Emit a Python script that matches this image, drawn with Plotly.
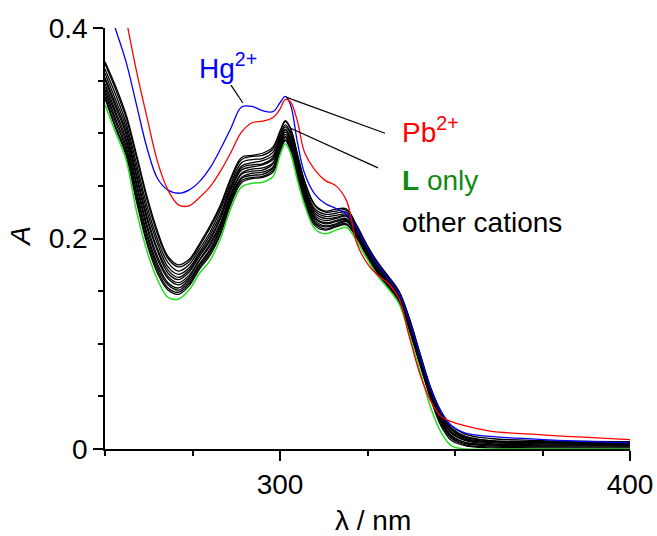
import plotly.graph_objects as go

# Wavelength grid (nm)
WAVELENGTH = [250, 253, 256, 259, 262, 265, 268, 271, 274, 277, 280, 283, 286, 289, 292, 295, 298, 300, 301.5, 303,
              305, 307, 310, 313, 316, 319, 322, 325, 328, 331, 334, 337, 340, 343, 346, 349, 353, 360, 375, 400]

L_ONLY = [.327, .301, .275, .226, .188, .161, .144, .1425, .151, .167, .179, .200, .229, .249, .2525, .2535, .259, .279, .290, .281,
          .255, .232, .209, .2045, .208, .2105, .197, .180, .164, .152, .138, .108, .074, .040, .016, .003, .000, .000, .000, .000]

HG = [.430, .399, .368, .327, .286, .257, .246, .243, .246, .254, .267, .285, .305, .325, .3255, .3215, .3205, .329, .335, .327,
      .291, .262, .242, .233, .2285, .223, .209, .191, .175, .162, .148, .121, .089, .058, .035, .022, .015, .012, .009, .006]

PB = [.510, .460, .409, .359, .315, .273, .246, .232, .231, .239, .249, .264, .282, .301, .310, .3115, .315, .323, .332, .330,
      .311, .282, .265, .255, .250, .236, .195, .176, .165, .157, .143, .106, .071, .046, .031, .026, .022, .017, .0135, .009]

OTHER_01 = [.368, .345, .318, .280, .240, .207, .183, .175, .180, .195, .212, .232, .258, .277, .279, .281, .287, .302, .312, .305,
            .280, .255, .232, .226, .228, .228, .212, .193, .177, .164, .150, .124, .091, .059, .036, .022, .014, .010, .008, .007]
OTHER_02 = [.366, .342, .315, .277, .237, .204, .181, .173, .178, .193, .210, .230, .256, .275, .278, .279, .285, .301, .311, .304,
            .279, .254, .231, .225, .226, .227, .211, .192, .176, .163, .149, .123, .090, .058, .034, .020, .012, .008, .006, .005]
OTHER_03 = [.361, .337, .310, .271, .231, .199, .177, .169, .175, .190, .206, .227, .253, .272, .275, .276, .282, .298, .308, .301,
            .276, .251, .228, .223, .224, .225, .210, .191, .175, .162, .148, .121, .089, .057, .033, .018, .010, .007, .006, .005]
OTHER_04 = [.357, .332, .306, .266, .226, .195, .173, .166, .172, .187, .203, .223, .250, .269, .272, .274, .279, .296, .306, .299,
            .273, .249, .226, .221, .222, .223, .208, .189, .173, .161, .147, .120, .088, .056, .032, .019, .011, .008, .007, .006]
OTHER_05 = [.353, .328, .302, .261, .221, .190, .170, .163, .170, .185, .200, .220, .248, .267, .270, .271, .277, .294, .304, .296,
            .271, .247, .224, .219, .220, .222, .207, .188, .172, .160, .146, .119, .087, .055, .031, .016, .009, .006, .005, .004]
OTHER_06 = [.351, .325, .299, .258, .218, .188, .167, .161, .168, .183, .198, .219, .246, .265, .268, .270, .275, .292, .303, .295,
            .270, .245, .222, .217, .219, .221, .206, .188, .172, .159, .145, .118, .086, .054, .030, .015, .008, .005, .004, .004]
OTHER_07 = [.347, .321, .295, .253, .213, .183, .164, .158, .165, .180, .195, .215, .243, .262, .266, .267, .272, .290, .301, .293,
            .267, .243, .220, .215, .217, .219, .205, .186, .170, .158, .144, .117, .085, .053, .029, .016, .009, .007, .006, .006]
OTHER_08 = [.344, .318, .292, .250, .210, .180, .162, .156, .163, .179, .193, .213, .241, .261, .264, .265, .271, .289, .299, .291,
            .266, .242, .219, .214, .216, .218, .204, .185, .169, .157, .143, .116, .084, .052, .028, .013, .006, .004, .003, .003]
OTHER_09 = [.341, .314, .288, .245, .205, .176, .158, .153, .161, .176, .190, .211, .239, .258, .262, .263, .268, .287, .297, .289,
            .263, .240, .217, .212, .214, .217, .203, .184, .168, .156, .142, .115, .083, .051, .027, .012, .006, .004, .003, .003]
OTHER_10 = [.338, .311, .285, .242, .202, .173, .156, .151, .159, .175, .188, .209, .237, .257, .260, .261, .267, .285, .296, .287,
            .262, .238, .215, .211, .213, .216, .202, .184, .168, .155, .141, .114, .082, .050, .026, .011, .005, .003, .002, .002]
OTHER_11 = [.335, .307, .282, .238, .198, .170, .153, .149, .157, .173, .186, .206, .235, .255, .258, .259, .265, .284, .294, .286,
            .260, .237, .214, .209, .212, .214, .201, .183, .167, .154, .140, .113, .081, .049, .024, .010, .004, .002, .001, .001]
OTHER_12 = [.333, .305, .279, .235, .195, .167, .151, .147, .155, .171, .184, .204, .233, .253, .257, .258, .263, .282, .293, .284,
            .259, .235, .212, .208, .211, .213, .200, .182, .166, .154, .140, .112, .080, .048, .022, .008, .003, .001, .000, .000]

OTHER_CATIONS = [OTHER_01, OTHER_02, OTHER_03, OTHER_04, OTHER_05, OTHER_06,
                 OTHER_07, OTHER_08, OTHER_09, OTHER_10, OTHER_11, OTHER_12]

FONT = "Liberation Sans, Arial, sans-serif"
GREEN_LINE = "#22dd22"
GREEN_TEXT = "#128a12"

fig = go.Figure()
for ys in OTHER_CATIONS:
    fig.add_trace(go.Scatter(x=WAVELENGTH, y=ys, mode="lines",
                             line=dict(color="black", width=1.3, shape="spline"),
                             showlegend=False, hoverinfo="skip"))
fig.add_trace(go.Scatter(x=WAVELENGTH, y=L_ONLY, mode="lines",
                         line=dict(color=GREEN_LINE, width=1.5, shape="spline"), showlegend=False))
fig.add_trace(go.Scatter(x=WAVELENGTH, y=HG, mode="lines",
                         line=dict(color="#0000ff", width=1.3, shape="spline"), showlegend=False))
fig.add_trace(go.Scatter(x=WAVELENGTH, y=PB, mode="lines",
                         line=dict(color="#ff0000", width=1.3, shape="spline"), showlegend=False))

# leader lines
for x0, y0, x1, y1 in [(286.0, 0.3458, 289.4, 0.3287),
                       (301.7, 0.3343, 330.0, 0.300),
                       (302.9, 0.305, 328.0, 0.2671)]:
    fig.add_shape(type="line", x0=x0, y0=y0, x1=x1, y1=y1, xref="x", yref="y",
                  line=dict(color="black", width=1.2))

ann_font = dict(family=FONT, size=28)
fig.add_annotation(x=276.3, y=0.364, xref="x", yref="y", text="Hg<sup>2+</sup>", showarrow=False,
                   xanchor="left", yanchor="middle", font=dict(ann_font, color="#0000ff"))
fig.add_annotation(x=334.3, y=0.303, xref="x", yref="y", text="Pb<sup>2+</sup>", showarrow=False,
                   xanchor="left", yanchor="middle", font=dict(ann_font, color="#ff0000"))
fig.add_annotation(x=334.3, y=0.2555, xref="x", yref="y", text="<b>L</b> only", showarrow=False,
                   xanchor="left", yanchor="middle", font=dict(ann_font, color=GREEN_TEXT))
fig.add_annotation(x=334.3, y=0.2156, xref="x", yref="y", text="other cations", showarrow=False,
                   xanchor="left", yanchor="middle", font=dict(ann_font, color="black"))

# axis titles
fig.add_annotation(x=326.6, y=-0.17, xref="x", yref="paper", text="λ / nm", showarrow=False,
                   xanchor="center", yanchor="middle", font=dict(ann_font, color="black"))
fig.add_annotation(x=-0.16, y=0.2016, xref="paper", yref="y", text="<i>A</i>", showarrow=False,
                   textangle=-90, xanchor="center", yanchor="middle", font=dict(ann_font, color="black"))

axis_common = dict(showline=True, linecolor="black", linewidth=1.5, ticks="outside", ticklen=10,
                   tickwidth=1.5, tickcolor="black", showgrid=False, zeroline=False, mirror=False,
                   automargin=False, tickfont=dict(family=FONT, size=28, color="black"))
fig.update_xaxes(range=[250, 400], tick0=0, dtick=100,
                 minor=dict(dtick=25, tick0=0, ticks="outside", ticklen=5, tickwidth=1.5, tickcolor="black", showgrid=False),
                 **axis_common)
fig.update_yaxes(range=[0, 0.4], tick0=0, dtick=0.2,
                 minor=dict(dtick=0.05, tick0=0, ticks="outside", ticklen=5, tickwidth=1.5, tickcolor="black", showgrid=False),
                 **axis_common)

fig.update_layout(width=657, height=536, margin=dict(l=105, r=27, t=28, b=87),
                  plot_bgcolor="white", paper_bgcolor="white", font=dict(family=FONT, color="black"))

fig.write_html("out.html")
